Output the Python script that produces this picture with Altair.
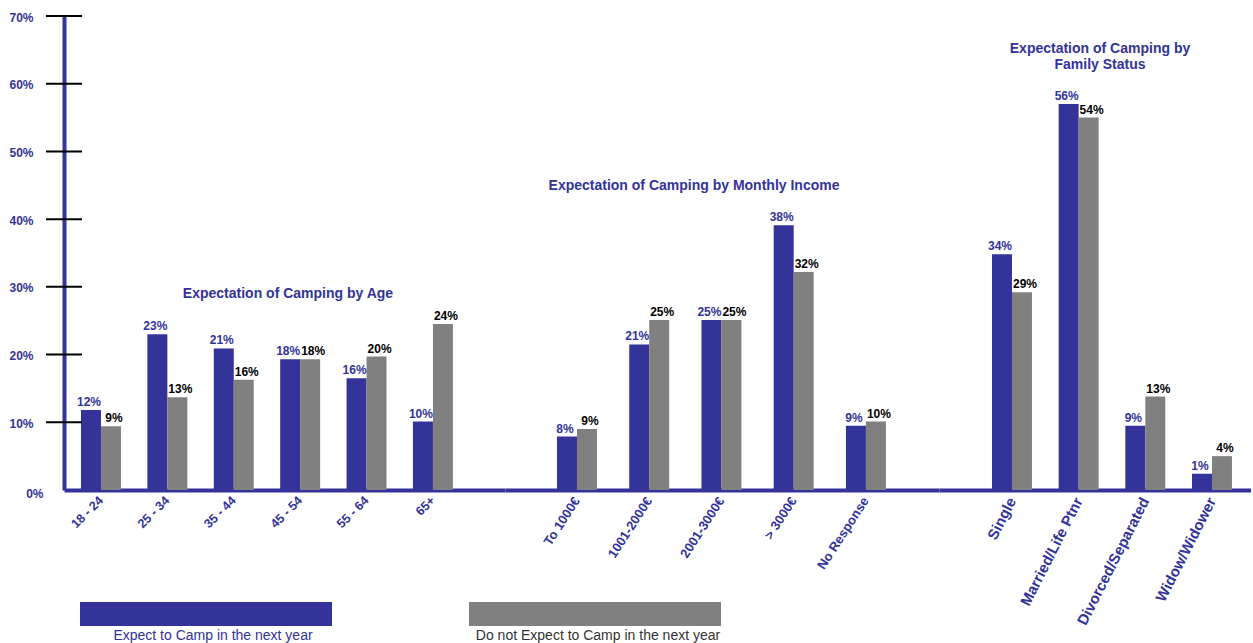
import altair as alt
import pandas as pd

# ---------------- data ----------------
SERIES = ["Expect to Camp in the next year", "Do not Expect to Camp in the next year"]

age_cats = ["18 - 24", "25 - 34", "35 - 44", "45 - 54", "55 - 64", "65+"]
age_expect = [11.8, 23.0, 20.9, 19.3, 16.5, 10.1]
age_not = [9.4, 13.7, 16.3, 19.3, 19.7, 24.5]
age_expect_lbl = ["12%", "23%", "21%", "18%", "16%", "10%"]
age_not_lbl = ["9%", "13%", "16%", "18%", "20%", "24%"]

inc_cats = ["To 1000€", "1001-2000€", "2001-3000€", "> 3000€", "No Response"]
inc_expect = [7.9, 21.5, 25.1, 39.1, 9.5]
inc_not = [9.0, 25.1, 25.1, 32.2, 10.1]
inc_expect_lbl = ["8%", "21%", "25%", "38%", "9%"]
inc_not_lbl = ["9%", "25%", "25%", "32%", "10%"]

fam_cats = ["Single", "Married/Life Ptnr", "Divorced/Separated", "Widow/Widower"]
fam_expect = [34.8, 57.0, 9.5, 2.4]
fam_not = [29.2, 55.0, 13.8, 5.0]
fam_expect_lbl = ["34%", "56%", "9%", "1%"]
fam_not_lbl = ["29%", "54%", "13%", "4%"]

Y_TICKS = [0, 10, 20, 30, 40, 50, 60, 70]

TITLE_AGE = "Expectation of Camping by Age"
TITLE_INC = "Expectation of Camping by  Monthly Income"
TITLE_FAM_1 = "Expectation of Camping by"
TITLE_FAM_2 = "Family Status"

# ---------------- style ----------------
BLUE = "#333399"
GRAY = "#808080"
FONT = "Liberation Sans, Arial, sans-serif"
H = 474


def make_df(cats, exp, nexp, exp_lbl, nexp_lbl):
    rows = []
    for i, c in enumerate(cats):
        rows.append({"cat": c, "series": SERIES[0], "value": exp[i], "label": exp_lbl[i]})
        rows.append({"cat": c, "series": SERIES[1], "value": nexp[i], "label": nexp_lbl[i]})
    return pd.DataFrame(rows)


y_scale = alt.Scale(domain=[0, 70], nice=False, zero=True)
y_axis_main = alt.Axis(
    title=None, values=Y_TICKS, labelExpr="datum.value + '%'",
    ticks=False, tickSize=0, grid=False, domainColor=BLUE, domainWidth=4,
    labelColor=BLUE, labelFont=FONT, labelFontWeight="bold", labelFontSize=12,
    labelPadding={"condition": {"test": "datum.value === 0", "value": 21}, "value": 31},
    labelOffset={"condition": {"test": "datum.value === 0", "value": 3}, "value": 1},
    minExtent=55, maxExtent=55,
)


def panel(cats, exp, nexp, exp_lbl, nexp_lbl, width, p_in, p_out, align, angle, lsize,
          with_y=False, extra=None):
    df = make_df(cats, exp, nexp, exp_lbl, nexp_lbl)
    x = alt.X(
        "cat:N", sort=cats,
        scale=alt.Scale(paddingInner=p_in, paddingOuter=p_out, align=align),
        axis=alt.Axis(
            title=None, labelAngle=angle, labelAlign="right", labelBaseline="middle",
            labelFont=FONT, labelFontSize=lsize, labelFontWeight="bold", labelColor=BLUE,
            labelPadding=8, labelLimit=0, ticks=False, tickSize=0, grid=False,
            domainColor=BLUE, domainWidth=4,
        ),
    )
    xo = alt.XOffset("series:N", sort=SERIES,
                     scale=alt.Scale(domain=SERIES, paddingInner=0, paddingOuter=0))
    y = alt.Y("value:Q", scale=y_scale, axis=y_axis_main if with_y else None)
    color = alt.Color("series:N", scale=alt.Scale(domain=SERIES, range=[BLUE, GRAY]), legend=None)

    base = alt.Chart(df)
    bars = base.mark_bar().encode(x=x, xOffset=xo, y=y, color=color)
    lbl_blue = base.transform_filter(alt.datum.series == SERIES[0]).mark_text(
        baseline="alphabetic", dy=-4, dx=-2, font=FONT, fontSize=12, fontWeight="bold",
        color=BLUE,
    ).encode(x=x, xOffset=xo, y=y, text="label:N")
    lbl_gray = base.transform_filter(alt.datum.series == SERIES[1]).mark_text(
        baseline="alphabetic", dy=-4, dx=3, font=FONT, fontSize=12, fontWeight="bold",
        color="#000000",
    ).encode(x=x, xOffset=xo, y=y, text="label:N")
    layers = [bars, lbl_blue, lbl_gray]
    if with_y:
        tick_df = pd.DataFrame({"value": Y_TICKS[1:]})
        ticks = alt.Chart(tick_df).mark_rule(color="#000000", strokeWidth=2).encode(
            y=y, x=alt.value(-18), x2=alt.value(18)
        )
        layers.append(ticks)
    if extra:
        layers.extend(extra)
    return alt.layer(*layers).properties(width=width, height=H)


one = pd.DataFrame({"k": [0]})


def label_text(txt, x, y, color=BLUE, size=14, weight="bold"):
    return alt.Chart(one).mark_text(
        font=FONT, fontSize=size, fontWeight=weight, align="center", baseline="middle"
    ).encode(x=alt.value(x), y=alt.value(y), text=alt.value(txt), color=alt.value(color))


def legend_rect(x1, x2, y1, y2, color):
    return alt.Chart(one).mark_rect().encode(
        x=alt.value(x1), x2=alt.value(x2), y=alt.value(y1), y2=alt.value(y2),
        color=alt.value(color)
    )


p1 = panel(
    age_cats, age_expect, age_not, age_expect_lbl, age_not_lbl,
    441, 0.398, 0.52, 0.246, -45, 12.5, with_y=True,
    extra=[
        label_text(TITLE_AGE, 224, 278),
        legend_rect(16, 268, 586, 610, BLUE),
        legend_rect(405, 657, 586, 610, GRAY),
        label_text(SERIES[0], 149, 620, color=BLUE, size=14, weight="normal"),
        label_text(SERIES[1], 534, 620, color="#333333", size=14, weight="normal"),
    ],
)
p2 = panel(
    inc_cats, inc_expect, inc_not, inc_expect_lbl, inc_not_lbl,
    434, 0.446, 0.727, 0.495, -57, 13,
    extra=[label_text(TITLE_INC, 189, 170)],
)
p3 = panel(
    fam_cats, fam_expect, fam_not, fam_expect_lbl, fam_not_lbl,
    312, 0.4, 0.54, 0.736, -63, 15,
    extra=[label_text(TITLE_FAM_1, 161, 33), label_text(TITLE_FAM_2, 161, 49)],
)

chart = alt.hconcat(p1, p2, p3, spacing=0, bounds="flush").configure_view(
    stroke=None
).properties(
    padding={"left": 8, "top": 11, "right": 0, "bottom": 0}
)

chart.save("out.html", embed_options={"renderer": "svg", "actions": False})
